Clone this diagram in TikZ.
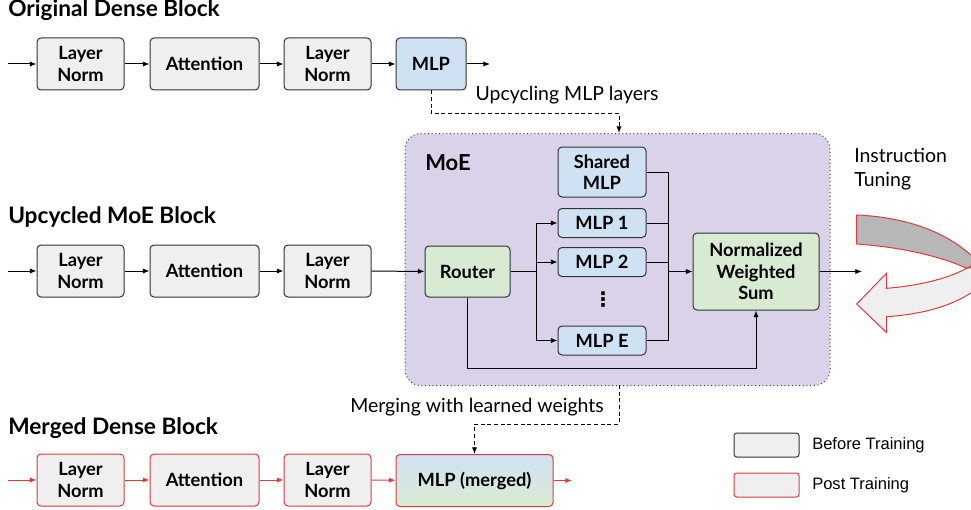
\documentclass[tikz,border=0pt]{standalone}
\usepackage{fontspec}
\setmainfont{Lato}
\newfontfamily\legendfont{Liberation Sans}
\newfontfamily\dotsfont{DejaVu Sans}
\usepackage{xcolor}
\usetikzlibrary{arrows.meta,positioning,calc}
\definecolor{boxgray}{HTML}{EFEFEF}
\definecolor{mlpblue}{HTML}{CFE2F3}
\definecolor{routegreen}{HTML}{D9EAD3}
\definecolor{moepurple}{HTML}{D9D2E9}
\definecolor{postred}{HTML}{E03A3A}
\definecolor{bandgray}{HTML}{B7B7B7}
\tikzset{
  block/.style={draw=black!80,line width=0.75pt,rounded corners=3pt,fill=boxgray,align=center,inner sep=0pt,minimum height=39pt,font=\bfseries\fontsize{13.7}{16}\selectfont},
  postblock/.style={block,draw=postred},
  mlpbox/.style={block,fill=mlpblue},
  greenbox/.style={block,fill=routegreen},
  title/.style={anchor=west,inner sep=0pt,font=\bfseries\fontsize{17}{19}\selectfont},
  label/.style={inner sep=0pt,font=\fontsize{14.6}{17}\selectfont},
  arrow/.style={-{Latex[length=5pt,width=4pt]},line width=0.75pt,draw=black},
  redarrow/.style={arrow,draw=postred,-{Latex[length=5pt,width=4pt,color=postred]}},
  dasharrow/.style={arrow,dash pattern=on 3pt off 2pt},
  legendbox/.style={draw=black!80,line width=0.75pt,rounded corners=2pt,fill=boxgray,minimum width=48.75pt,minimum height=18pt,inner sep=0pt}
}

\begin{document}
\begin{tikzpicture}[x=0.75pt,y=-0.75pt]
  \useasboundingbox (0,0) rectangle (971,510);

  % original dense block
  \node (titleA) [title] at (8,10) {Original Dense Block};
  \node (lnA) [block,minimum width=65.25pt] at (80.5,64) {Layer\\Norm};
  \node (attA) [block,minimum width=81.75pt] at (204.5,64) {Attention};
  \node (lnA2) [block,minimum width=65.25pt] at (327.5,64) {Layer\\Norm};
  \node (mlpA) [mlpbox,minimum width=52.5pt] at (431,64) {MLP};
  \coordinate (inA) at (8,64);
  \coordinate (outA) at (490,64);
  \draw[arrow] (inA) -- (lnA);
  \draw[arrow] (lnA) -- (attA);
  \draw[arrow] (attA) -- (lnA2);
  \draw[arrow] (lnA2) -- (mlpA);
  \draw[arrow] (mlpA) -- (outA);

  % upcycled moe block
  \node (titleB) [title] at (8,217) {Upcycled MoE Block};
  \node (moe) [draw=black!75,dotted,line width=0.75pt,rounded corners=12pt,fill=moepurple,minimum width=318.75pt,minimum height=189pt,inner sep=0pt] at (617.5,259.5) {};
  \node (moelabel) [anchor=west,inner sep=0pt,font=\bfseries\fontsize{16.5}{19}\selectfont] at (425,163) {MoE};
  \node (lnB) [block,minimum width=65.25pt] at (80.5,271) {Layer\\Norm};
  \node (attB) [block,minimum width=81.75pt] at (204.5,271) {Attention};
  \node (lnB2) [block,minimum width=65.25pt] at (327.5,271) {Layer\\Norm};
  \node (router) [greenbox,minimum width=63.75pt,minimum height=38.25pt] at (467.5,271.5) {Router};
  \node (shared) [mlpbox,minimum width=66pt,minimum height=37.5pt] at (602,172) {Shared\\MLP};
  \node (mlpone) [mlpbox,minimum width=66pt,minimum height=21.75pt] at (602,223) {MLP 1};
  \node (mlptwo) [mlpbox,minimum width=66pt,minimum height=21.75pt] at (602,262) {MLP 2};
  \node (vdots) [inner sep=0pt,font=\dotsfont\bfseries\fontsize{15}{17}\selectfont] at (603,300) {⋮};
  \node (mlpe) [mlpbox,minimum width=66pt,minimum height=21.75pt] at (602,340.5) {MLP E};
  \node (nws) [greenbox,minimum width=94.5pt,minimum height=57.75pt] at (756,271.5) {Normalized\\Weighted\\Sum};
  \coordinate (inB) at (8,271);
  \coordinate (split) at (536,271.5);
  \coordinate (join) at (668,271.5);
  \coordinate (nwsout) at (862,271.5);
  \draw[arrow] (inB) -- (lnB);
  \draw[arrow] (lnB) -- (attB);
  \draw[arrow] (attB) -- (lnB2);
  \draw[arrow] (lnB2) -- (router);
  \draw[line width=0.75pt] (router) -- (split);
  \draw[arrow] (split) |- (mlpone.west);
  \draw[arrow] (split) |- (mlptwo.west);
  \draw[arrow] (split) |- (mlpe.west);
  \draw[line width=0.75pt] (shared.east) -| (join);
  \draw[line width=0.75pt] (mlpone.east) -| (join);
  \draw[line width=0.75pt] (mlptwo.east) -| (join);
  \draw[line width=0.75pt] (mlpe.east) -| (join);
  \draw[arrow] (join) -- (nws);
  \draw[arrow] (router.south) -- ++(0,71) -| (nws.south);
  \draw[arrow] (nws) -- (nwsout);

  % instruction tuning
  \node (tuning) [label,anchor=west,align=left,font=\fontsize{14.6}{18}\selectfont] at (854,169) {Instruction\\Tuning};
  \draw[postred,line width=0.75pt,fill=bandgray] (856.7,215) .. controls (905,217) and (950,232) .. (978,262) -- (966.7,268.3) .. controls (940,256) and (900,247) .. (856.7,244) -- cycle;
  \draw[postred,line width=0.75pt,fill=boxgray] (966.7,268.3) .. controls (945,280) and (915,286) .. (886.7,288.3) -- (886.7,273) -- (856.7,304) -- (886.7,332.7) -- (886.7,316.7) .. controls (925,314) and (960,305) .. (985,282) -- (985,265) -- cycle;

  % upcycling / merging connectors
  \coordinate (moetop) at (619,133);
  \coordinate (moebot) at (619,385);
  \node (upcyc) [label] at (567,95) {Upcycling MLP layers};
  \draw[dasharrow] (mlpA.south) -- ++(0,23) -| (moetop);

  % merged dense block
  \node (titleC) [title] at (8,428) {Merged Dense Block};
  \node (lnC) [postblock,minimum width=65.25pt] at (80.5,480) {Layer\\Norm};
  \node (attC) [postblock,minimum width=81.75pt] at (204.5,480) {Attention};
  \node (lnC2) [postblock,minimum width=65.25pt] at (327.5,480) {Layer\\Norm};
  \node (merged) [postblock,minimum width=117.75pt,top color=mlpblue,bottom color=routegreen] at (474.5,480.5) {MLP (merged)};
  \node (mergelab) [label] at (477,407) {Merging with learned weights};
  \coordinate (inC) at (8,480);
  \coordinate (outC) at (572,480.5);
  \draw[redarrow] (inC) -- (lnC);
  \draw[redarrow] (lnC) -- (attC);
  \draw[redarrow] (attC) -- (lnC2);
  \draw[redarrow] (lnC2) -- (merged);
  \draw[redarrow] (merged) -- (outC);
  \draw[dasharrow] (moebot) -- ++(0,39) -| (merged.north);

  % legend
  \node (legbefore) [legendbox] at (766.5,445) {};
  \node (legpost) [legendbox,draw=postred] at (766.5,485) {};
  \node (legbeforetxt) [anchor=west,inner sep=0pt,font=\legendfont\fontsize{12.4}{15}\selectfont] at (812,445) {Before Training};
  \node (legposttxt) [anchor=west,inner sep=0pt,font=\legendfont\fontsize{12.4}{15}\selectfont] at (812,485) {Post Training};
\end{tikzpicture}
\end{document}
